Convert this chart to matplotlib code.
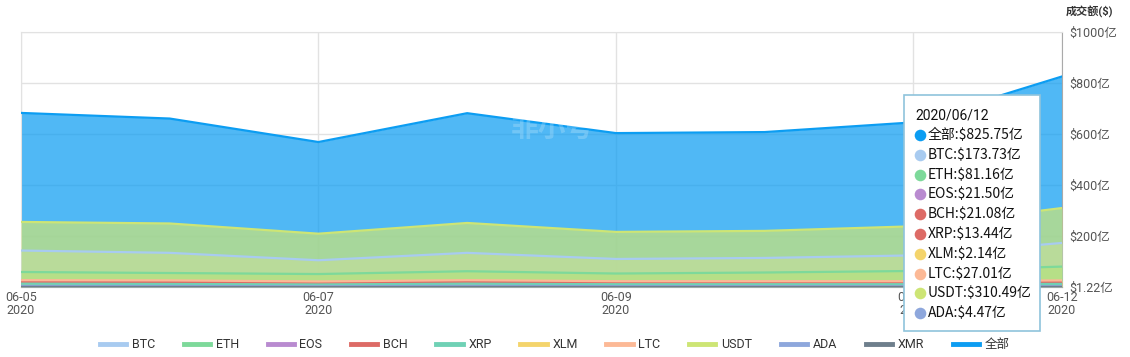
import matplotlib.pyplot as plt
from matplotlib.lines import Line2D
from matplotlib.patches import Rectangle
import numpy as np

plt.rcParams['font.family'] = ['Roboto', 'Noto Sans CJK SC', 'DejaVu Sans']

# Data (亿 USD)
dates = ['06-05', '06-06', '06-07', '06-08', '06-09', '06-10', '06-11', '06-12']
total = [683, 661, 569, 682, 604, 608, 646, 825.75]
btc = [144, 135, 106, 135, 111, 115, 125, 173.73]
eth = [60, 56, 52, 63, 54, 58, 64, 81.16]
eos = [24, 23, 20, 24, 21, 21, 20, 21.50]
bch = [22, 21, 18, 22, 19, 19, 19, 21.08]
xrp = [14, 13, 11, 14, 12, 12, 12, 13.44]
xlm = [2.5, 2.3, 2.0, 2.6, 2.1, 2.1, 2.0, 2.14]
ltc = [28, 27, 23, 28, 24, 24, 24, 27.01]
usdt = [256, 250, 210, 252, 217, 221, 239, 310.49]
ada = [5.2, 5.0, 4.2, 5.5, 4.6, 4.5, 4.3, 4.47]
xmr = [1.6, 1.5, 1.22, 1.6, 1.4, 1.4, 1.4, 1.5]

names = ['BTC', 'ETH', 'EOS', 'BCH', 'XRP', 'XLM', 'LTC', 'USDT', 'ADA', 'XMR']
series = [btc, eth, eos, bch, xrp, xlm, ltc, usdt, ada, xmr]
colors = ['#a8cbf0', '#7dd99a', '#b98bd0', '#dd6b66', '#6fd1b5', '#f4d46c',
          '#fcb996', '#cde575', '#8ea7dc', '#6e7f8c']
total_color = '#0c9df2'

yticks = [1.22, 200, 400, 600, 800, 1000]
ytick_labels = ['$1.22亿', '$200亿', '$400亿', '$600亿', '$800亿', '$1000亿']
xtick_idx = [0, 2, 4, 6, 7]

fig = plt.figure(figsize=(11.3, 3.57), dpi=100)
ax = fig.add_axes([21 / 1130, 1 - 287 / 357, (1062 - 21) / 1130, (287 - 32) / 357])

x = np.arange(len(dates))

# total behind, then each coin as overlapping area; lines on top of all fills
ax.fill_between(x, 0, total, color=total_color, alpha=0.72, lw=0, zorder=2)
ax.plot(x, total, color=total_color, lw=1.6, zorder=3)
for i, (vals, c) in enumerate(zip(series, colors)):
    ax.fill_between(x, 0, vals, color=c, alpha=0.7, lw=0, zorder=4 + i)
for i, (vals, c) in enumerate(zip(series, colors)):
    ax.plot(x, vals, color=c, lw=1.6, zorder=20 + i)

ax.set_xlim(0, len(dates) - 1)
ax.set_ylim(1.22, 1000)
ax.set_xticks([x[i] for i in xtick_idx])
ax.set_xticklabels([dates[i] + '\n2020' for i in xtick_idx], color='#555555',
                   fontsize=9, linespacing=1.0)
ax.set_yticks(yticks)
ax.set_yticklabels(ytick_labels, color='#555555', fontsize=9)
ax.yaxis.tick_right()
ax.tick_params(length=0, pad=5)
ax.tick_params(axis='x', pad=3)
ax.grid(True, color='#e2e2e2', lw=1)
ax.set_axisbelow(True)
for side in ['top', 'left']:
    ax.spines[side].set_color('#e2e2e2')
ax.spines['right'].set_color('#aaaaaa')
ax.spines['bottom'].set_color('#888888')

fig.text(1066 / 1130, 1 - 12 / 357, '成交额($)', fontsize=8, fontweight='bold',
         color='#333333', va='center', ha='left')

# watermark
ax.text(0.51, 0.62, '非小号', transform=ax.transAxes, fontsize=20,
        color='white', alpha=0.2, ha='center', va='center', fontweight='bold',
        zorder=40, family=['Noto Sans CJK SC', 'DejaVu Sans'])

# legend
handles = [Line2D([], [], color=c, lw=3.5) for c in colors]
handles.append(Line2D([], [], color=total_color, lw=3.5))
fig.legend(handles, names + ['全部'], loc='center', bbox_to_anchor=(0.491, 0.034),
           ncol=11, frameon=False, fontsize=9, handlelength=2.1,
           handletextpad=0.45, columnspacing=2.3, labelcolor='#333333')

# tooltip
tip = fig.add_axes([0, 0, 1, 1], zorder=30)
tip.set_xlim(0, 1130)
tip.set_ylim(357, 0)
tip.axis('off')
tip.add_patch(Rectangle((904, 95), 136, 236, facecolor='white',
                        edgecolor='#8fc3dc', lw=1.2))
tip.text(915, 115, '2020/06/12', fontsize=10, va='center', color='#111111')
tip_names = ['全部'] + names[:-1]
tip_vals = [total[-1]] + [s[-1] for s in series[:-1]]
tip_cols = [total_color] + colors[:-1]
tip_cols[5] = '#dd6b66'
for k, (n, v, c) in enumerate(zip(tip_names, tip_vals, tip_cols)):
    yy = 135 + k * 19.8
    tip.scatter([920], [yy], s=70, color=c, lw=0)
    tip.text(928, yy, '%s:$%.2f亿' % (n, v), fontsize=10, va='center',
             color='#111111', family=['Noto Sans CJK SC', 'DejaVu Sans'])

fig.savefig('out.png', dpi=100)
